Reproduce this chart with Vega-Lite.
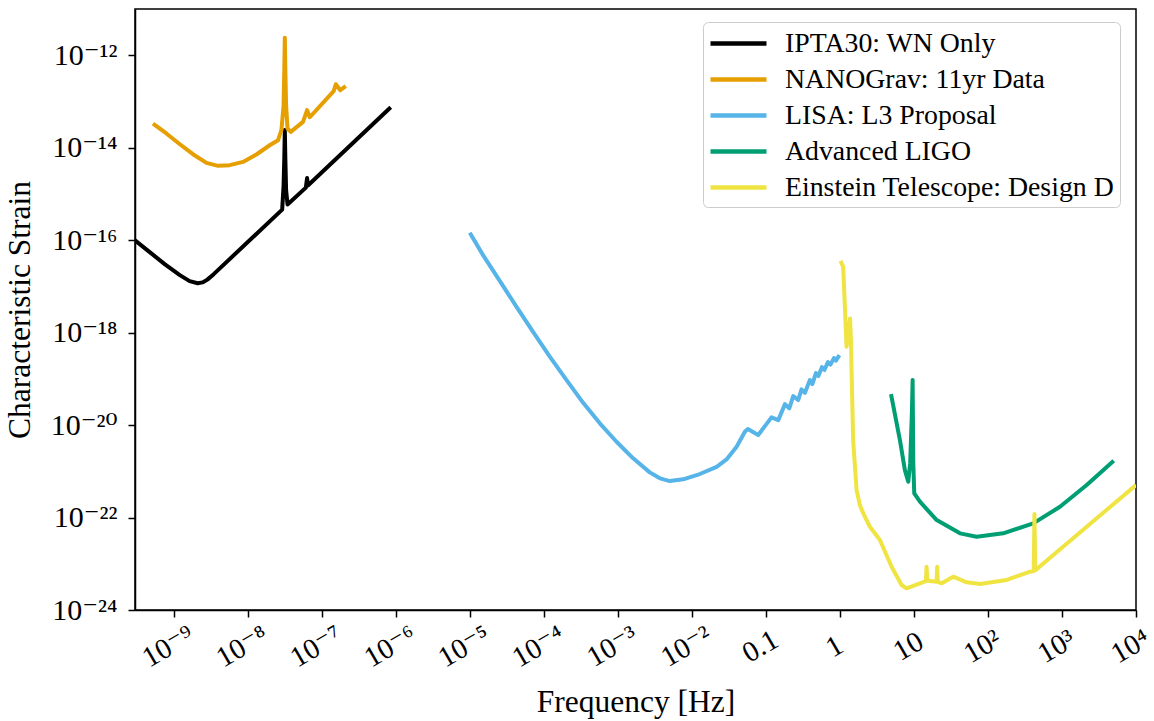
{
  "$schema": "https://vega.github.io/schema/vega-lite/v6.json",
  "width": 1001,
  "height": 601,
  "autosize": {"type": "none"},
  "padding": {"left": 135, "top": 9, "right": 18, "bottom": 111},
  "background": "white",
  "config": {
    "font": "Liberation Serif, DejaVu Serif",
    "view": {"stroke": "black", "strokeWidth": 1.5},
    "axis": {
      "grid": false,
      "domainColor": "black",
      "domainWidth": 1.5,
      "tickColor": "black",
      "tickWidth": 1.5,
      "tickSize": 7,
      "labelColor": "black",
      "titleColor": "black",
      "labelFont": "Liberation Serif, DejaVu Serif",
      "titleFont": "Liberation Serif, DejaVu Serif",
      "labelFontSize": 29,
      "titleFontSize": 31.5,
      "titleFontWeight": "normal"
    }
  },
  "data": {
    "values": [
      {"series": "IPTA30: WN Only", "freq": 2.97e-10, "strain": 1.0e-16},
      {"series": "IPTA30: WN Only", "freq": 4.74e-10, "strain": 5.51e-17},
      {"series": "IPTA30: WN Only", "freq": 7.55e-10, "strain": 3.03e-17},
      {"series": "IPTA30: WN Only", "freq": 1.21e-9, "strain": 1.75e-17},
      {"series": "IPTA30: WN Only", "freq": 1.64e-9, "strain": 1.30e-17},
      {"series": "IPTA30: WN Only", "freq": 2.11e-9, "strain": 1.17e-17},
      {"series": "IPTA30: WN Only", "freq": 2.45e-9, "strain": 1.22e-17},
      {"series": "IPTA30: WN Only", "freq": 2.85e-9, "strain": 1.40e-17},
      {"series": "IPTA30: WN Only", "freq": 3.47e-9, "strain": 1.84e-17},
      {"series": "IPTA30: WN Only", "freq": 2.92e-8, "strain": 4.57e-16},
      {"series": "IPTA30: WN Only", "freq": 3.05e-8, "strain": 1.5e-15},
      {"series": "IPTA30: WN Only", "freq": 3.12e-8, "strain": 6.0e-15},
      {"series": "IPTA30: WN Only", "freq": 3.17e-8, "strain": 2.4e-14},
      {"series": "IPTA30: WN Only", "freq": 3.22e-8, "strain": 6.0e-15},
      {"series": "IPTA30: WN Only", "freq": 3.30e-8, "strain": 1.2e-15},
      {"series": "IPTA30: WN Only", "freq": 3.45e-8, "strain": 5.9e-16},
      {"series": "IPTA30: WN Only", "freq": 6.1e-8, "strain": 1.37e-15},
      {"series": "IPTA30: WN Only", "freq": 6.34e-8, "strain": 2.2e-15},
      {"series": "IPTA30: WN Only", "freq": 6.5e-8, "strain": 1.52e-15},
      {"series": "IPTA30: WN Only", "freq": 8.55e-7, "strain": 7.52e-14},

      {"series": "NANOGrav: 11yr Data", "freq": 5.25e-10, "strain": 3.33e-14},
      {"series": "NANOGrav: 11yr Data", "freq": 7.96e-10, "strain": 2.03e-14},
      {"series": "NANOGrav: 11yr Data", "freq": 1.21e-9, "strain": 1.19e-14},
      {"series": "NANOGrav: 11yr Data", "freq": 1.82e-9, "strain": 7.23e-15},
      {"series": "NANOGrav: 11yr Data", "freq": 2.77e-9, "strain": 4.70e-15},
      {"series": "NANOGrav: 11yr Data", "freq": 3.97e-9, "strain": 4.05e-15},
      {"series": "NANOGrav: 11yr Data", "freq": 5.71e-9, "strain": 4.19e-15},
      {"series": "NANOGrav: 11yr Data", "freq": 8.63e-9, "strain": 4.93e-15},
      {"series": "NANOGrav: 11yr Data", "freq": 1.31e-8, "strain": 7.13e-15},
      {"series": "NANOGrav: 11yr Data", "freq": 1.98e-8, "strain": 1.13e-14},
      {"series": "NANOGrav: 11yr Data", "freq": 2.57e-8, "strain": 1.45e-14},
      {"series": "NANOGrav: 11yr Data", "freq": 2.85e-8, "strain": 2.39e-14},
      {"series": "NANOGrav: 11yr Data", "freq": 3.05e-8, "strain": 8.0e-14},
      {"series": "NANOGrav: 11yr Data", "freq": 3.12e-8, "strain": 5.0e-13},
      {"series": "NANOGrav: 11yr Data", "freq": 3.17e-8, "strain": 2.4e-12},
      {"series": "NANOGrav: 11yr Data", "freq": 3.22e-8, "strain": 5.0e-13},
      {"series": "NANOGrav: 11yr Data", "freq": 3.30e-8, "strain": 8.0e-14},
      {"series": "NANOGrav: 11yr Data", "freq": 3.45e-8, "strain": 2.6e-14},
      {"series": "NANOGrav: 11yr Data", "freq": 3.81e-8, "strain": 2.20e-14},
      {"series": "NANOGrav: 11yr Data", "freq": 5.58e-8, "strain": 3.61e-14},
      {"series": "NANOGrav: 11yr Data", "freq": 6.34e-8, "strain": 6.5e-14},
      {"series": "NANOGrav: 11yr Data", "freq": 6.89e-8, "strain": 4.56e-14},
      {"series": "NANOGrav: 11yr Data", "freq": 1.45e-7, "strain": 1.67e-13},
      {"series": "NANOGrav: 11yr Data", "freq": 1.55e-7, "strain": 2.36e-13},
      {"series": "NANOGrav: 11yr Data", "freq": 1.78e-7, "strain": 1.75e-13},
      {"series": "NANOGrav: 11yr Data", "freq": 2.11e-7, "strain": 2.14e-13},

      {"series": "LISA: L3 Proposal", "freq": 1.0e-5, "strain": 1.44e-16},
      {"series": "LISA: L3 Proposal", "freq": 1.51e-5, "strain": 4.74e-17},
      {"series": "LISA: L3 Proposal", "freq": 2.54e-5, "strain": 1.32e-17},
      {"series": "LISA: L3 Proposal", "freq": 4.28e-5, "strain": 3.61e-18},
      {"series": "LISA: L3 Proposal", "freq": 7.16e-5, "strain": 1.04e-18},
      {"series": "LISA: L3 Proposal", "freq": 1.21e-4, "strain": 3.0e-19},
      {"series": "LISA: L3 Proposal", "freq": 2.03e-4, "strain": 9.40e-20},
      {"series": "LISA: L3 Proposal", "freq": 3.40e-4, "strain": 3.03e-20},
      {"series": "LISA: L3 Proposal", "freq": 5.71e-4, "strain": 1.09e-20},
      {"series": "LISA: L3 Proposal", "freq": 9.6e-4, "strain": 4.36e-21},
      {"series": "LISA: L3 Proposal", "freq": 1.61e-3, "strain": 1.91e-21},
      {"series": "LISA: L3 Proposal", "freq": 2.70e-3, "strain": 9.48e-22},
      {"series": "LISA: L3 Proposal", "freq": 3.70e-3, "strain": 7.05e-22},
      {"series": "LISA: L3 Proposal", "freq": 5.04e-3, "strain": 6.15e-22},
      {"series": "LISA: L3 Proposal", "freq": 7.62e-3, "strain": 6.70e-22},
      {"series": "LISA: L3 Proposal", "freq": 1.28e-2, "strain": 8.73e-22},
      {"series": "LISA: L3 Proposal", "freq": 2.16e-2, "strain": 1.25e-21},
      {"series": "LISA: L3 Proposal", "freq": 2.94e-2, "strain": 1.81e-21},
      {"series": "LISA: L3 Proposal", "freq": 4.02e-2, "strain": 3.40e-21},
      {"series": "LISA: L3 Proposal", "freq": 5.2e-2, "strain": 7.16e-21},
      {"series": "LISA: L3 Proposal", "freq": 5.71e-2, "strain": 8.20e-21},
      {"series": "LISA: L3 Proposal", "freq": 7.87e-2, "strain": 6.08e-21},
      {"series": "LISA: L3 Proposal", "freq": 0.119, "strain": 1.47e-20},
      {"series": "LISA: L3 Proposal", "freq": 0.147, "strain": 1.28e-20},
      {"series": "LISA: L3 Proposal", "freq": 0.181, "strain": 2.84e-20},
      {"series": "LISA: L3 Proposal", "freq": 0.207, "strain": 2.30e-20},
      {"series": "LISA: L3 Proposal", "freq": 0.234, "strain": 4.24e-20},
      {"series": "LISA: L3 Proposal", "freq": 0.273, "strain": 3.48e-20},
      {"series": "LISA: L3 Proposal", "freq": 0.303, "strain": 5.92e-20},
      {"series": "LISA: L3 Proposal", "freq": 0.337, "strain": 4.99e-20},
      {"series": "LISA: L3 Proposal", "freq": 0.393, "strain": 9.40e-20},
      {"series": "LISA: L3 Proposal", "freq": 0.425, "strain": 7.69e-20},
      {"series": "LISA: L3 Proposal", "freq": 0.474, "strain": 1.33e-19},
      {"series": "LISA: L3 Proposal", "freq": 0.512, "strain": 1.15e-19},
      {"series": "LISA: L3 Proposal", "freq": 0.571, "strain": 1.79e-19},
      {"series": "LISA: L3 Proposal", "freq": 0.618, "strain": 1.55e-19},
      {"series": "LISA: L3 Proposal", "freq": 0.689, "strain": 2.30e-19},
      {"series": "LISA: L3 Proposal", "freq": 0.745, "strain": 2.03e-19},
      {"series": "LISA: L3 Proposal", "freq": 0.830, "strain": 2.81e-19},
      {"series": "LISA: L3 Proposal", "freq": 0.883, "strain": 2.48e-19},
      {"series": "LISA: L3 Proposal", "freq": 0.985, "strain": 3.27e-19},

      {"series": "Advanced LIGO", "freq": 4.9, "strain": 4.68e-20},
      {"series": "Advanced LIGO", "freq": 6.47, "strain": 4.74e-21},
      {"series": "Advanced LIGO", "freq": 7.55, "strain": 1.06e-21},
      {"series": "Advanced LIGO", "freq": 8.38, "strain": 5.94e-22},
      {"series": "Advanced LIGO", "freq": 8.9, "strain": 1.5e-21},
      {"series": "Advanced LIGO", "freq": 9.4, "strain": 2.0e-20},
      {"series": "Advanced LIGO", "freq": 9.6, "strain": 9.4e-20},
      {"series": "Advanced LIGO", "freq": 9.8, "strain": 1.5e-21},
      {"series": "Advanced LIGO", "freq": 10.1, "strain": 3.33e-22},
      {"series": "Advanced LIGO", "freq": 12.05, "strain": 2.20e-22},
      {"series": "Advanced LIGO", "freq": 20.3, "strain": 8.83e-23},
      {"series": "Advanced LIGO", "freq": 41.9, "strain": 4.55e-23},
      {"series": "Advanced LIGO", "freq": 70.3, "strain": 3.85e-23},
      {"series": "Advanced LIGO", "freq": 161, "strain": 4.55e-23},
      {"series": "Advanced LIGO", "freq": 409, "strain": 7.48e-23},
      {"series": "Advanced LIGO", "freq": 940, "strain": 1.71e-22},
      {"series": "Advanced LIGO", "freq": 2158, "strain": 5.04e-22},
      {"series": "Advanced LIGO", "freq": 5000, "strain": 1.7e-21},

      {"series": "Einstein Telescope: Design D", "freq": 1.02, "strain": 3.57e-17},
      {"series": "Einstein Telescope: Design D", "freq": 1.108, "strain": 2.65e-17},
      {"series": "Einstein Telescope: Design D", "freq": 1.23, "strain": 4.93e-19},
      {"series": "Einstein Telescope: Design D", "freq": 1.37, "strain": 2.03e-18},
      {"series": "Einstein Telescope: Design D", "freq": 1.41, "strain": 6.88e-19},
      {"series": "Einstein Telescope: Design D", "freq": 1.44, "strain": 1.32e-19},
      {"series": "Einstein Telescope: Design D", "freq": 1.51, "strain": 4.74e-21},
      {"series": "Einstein Telescope: Design D", "freq": 1.68, "strain": 3.94e-22},
      {"series": "Einstein Telescope: Design D", "freq": 1.86, "strain": 1.86e-22},
      {"series": "Einstein Telescope: Design D", "freq": 2.07, "strain": 1.23e-22},
      {"series": "Einstein Telescope: Design D", "freq": 2.54, "strain": 6.32e-23},
      {"series": "Einstein Telescope: Design D", "freq": 3.47, "strain": 3.27e-23},
      {"series": "Einstein Telescope: Design D", "freq": 4.99, "strain": 8.65e-24},
      {"series": "Einstein Telescope: Design D", "freq": 6.82, "strain": 3.47e-24},
      {"series": "Einstein Telescope: Design D", "freq": 7.96, "strain": 2.94e-24},
      {"series": "Einstein Telescope: Design D", "freq": 14.5, "strain": 4.2e-24},
      {"series": "Einstein Telescope: Design D", "freq": 14.8, "strain": 8.6e-24},
      {"series": "Einstein Telescope: Design D", "freq": 15.2, "strain": 4.3e-24},
      {"series": "Einstein Telescope: Design D", "freq": 20.2, "strain": 4.1e-24},
      {"series": "Einstein Telescope: Design D", "freq": 20.6, "strain": 8.6e-24},
      {"series": "Einstein Telescope: Design D", "freq": 21.0, "strain": 4.05e-24},
      {"series": "Einstein Telescope: Design D", "freq": 23.7, "strain": 3.78e-24},
      {"series": "Einstein Telescope: Design D", "freq": 34, "strain": 5.25e-24},
      {"series": "Einstein Telescope: Design D", "freq": 51.5, "strain": 3.97e-24},
      {"series": "Einstein Telescope: Design D", "freq": 78, "strain": 3.65e-24},
      {"series": "Einstein Telescope: Design D", "freq": 179, "strain": 4.46e-24},
      {"series": "Einstein Telescope: Design D", "freq": 370, "strain": 6.73e-24},
      {"series": "Einstein Telescope: Design D", "freq": 415, "strain": 6.95e-24},
      {"series": "Einstein Telescope: Design D", "freq": 425, "strain": 1.2e-22},
      {"series": "Einstein Telescope: Design D", "freq": 435, "strain": 7.2e-24},
      {"series": "Einstein Telescope: Design D", "freq": 763, "strain": 1.55e-23},
      {"series": "Einstein Telescope: Design D", "freq": 2158, "strain": 6.32e-23},
      {"series": "Einstein Telescope: Design D", "freq": 10000, "strain": 5.04e-22}
    ]
  },
  "mark": {"type": "line", "strokeWidth": 4, "clip": true, "strokeJoin": "round"},
  "encoding": {
    "x": {
      "field": "freq",
      "type": "quantitative",
      "scale": {"type": "log", "domain": [3e-10, 10000], "nice": false},
      "axis": {
        "title": "Frequency [Hz]",
        "values": [1e-9, 1e-8, 1e-7, 1e-6, 1e-5, 1e-4, 1e-3, 1e-2, 0.1, 1, 10, 100, 1000, 10000],
        "labelExpr": "['10⁻⁹','10⁻⁸','10⁻⁷','10⁻⁶','10⁻⁵','10⁻⁴','10⁻³','10⁻²','0.1','1','10','10²','10³','10⁴'][round(log(datum.value)/LN10)+9]",
        "labelAngle": -30,
        "labelAlign": "center",
        "labelBaseline": "middle",
        "labelPadding": 29,
        "labelOffset": -6,
        "labelOverlap": false,
        "labelFlush": false,
        "titlePadding": 14
      }
    },
    "y": {
      "field": "strain",
      "type": "quantitative",
      "scale": {"type": "log", "domain": [1e-24, 1e-11], "nice": false},
      "axis": {
        "title": "Characteristic Strain",
        "values": [1e-24, 1e-22, 1e-20, 1e-18, 1e-16, 1e-14, 1e-12],
        "labelExpr": "['10⁻²⁴','10⁻²²','10⁻²⁰','10⁻¹⁸','10⁻¹⁶','10⁻¹⁴','10⁻¹²'][round((log(datum.value)/LN10+24)/2)]",
        "labelFontSize": 30,
        "labelPadding": 11,
        "labelOverlap": false,
        "labelFlush": false,
        "titlePadding": 14
      }
    },
    "color": {
      "field": "series",
      "type": "nominal",
      "scale": {
        "domain": ["IPTA30: WN Only", "NANOGrav: 11yr Data", "LISA: L3 Proposal", "Advanced LIGO", "Einstein Telescope: Design D"],
        "range": ["#000000", "#E69F00", "#56B4E9", "#009E73", "#F0E442"]
      },
      "legend": {
        "title": null,
        "orient": "none",
        "legendX": 568,
        "legendY": 13,
        "symbolType": "M-1,0H3",
        "symbolSize": 784,
        "symbolStrokeWidth": 4.5,
        "labelFont": "Liberation Serif, DejaVu Serif",
        "labelFontSize": 27.8,
        "labelColor": "black",
        "labelOffset": 44,
        "labelLimit": 600,
        "rowPadding": 5,
        "padding": 5,
        "fillColor": "white",
        "strokeColor": "#cccccc",
        "cornerRadius": 5
      }
    }
  }
}
